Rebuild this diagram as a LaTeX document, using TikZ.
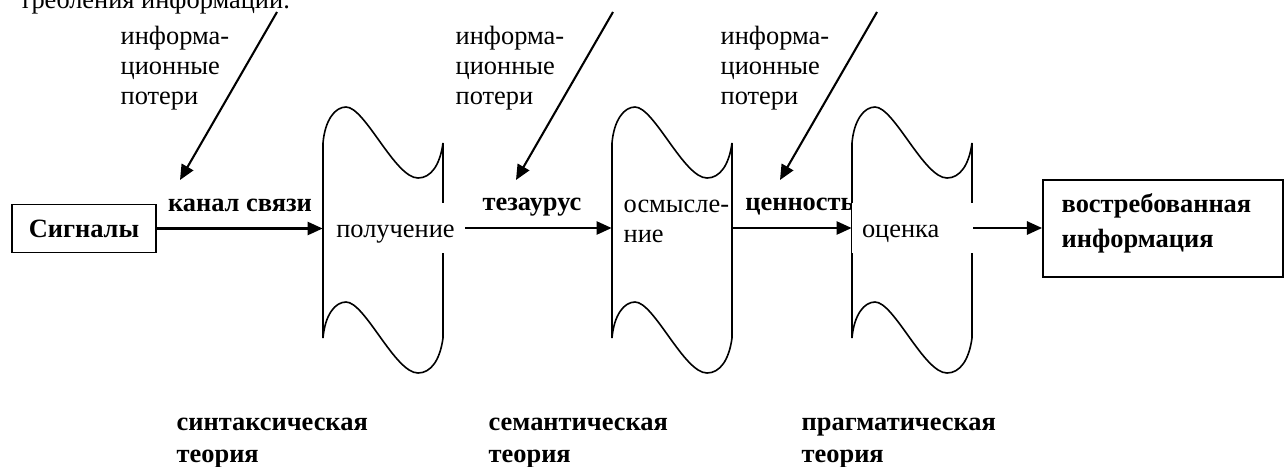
\documentclass[tikz,border=0pt]{standalone}
\usepackage{fontspec}
\setmainfont{Liberation Serif}
\usetikzlibrary{arrows.meta}
\newcommand{\pxu}{0.53pt}

\begin{document}
\begin{tikzpicture}[x=0.53pt, y=-0.53pt, font=\fontsize{14}{16}\selectfont,
  flow/.style={line width=1.1pt, -{Triangle[length=8pt,width=7pt]}},
  tapebox/.style={minimum width=120*\pxu, minimum height=195*\pxu, inner sep=0pt},
  tapeline/.style={line width=0.85pt},
  stage/.style={fill=white, text height=18pt, text depth=8.4pt, inner xsep=10*\pxu, inner ysep=0pt},
  keyword/.style={font=\fontsize{14}{16}\selectfont\bfseries, anchor=base},
  theory/.style={font=\fontsize{14}{17}\selectfont\bfseries, align=left, anchor=west},
  losstext/.style={align=left, anchor=west},
  endbox/.style={draw, line width=1pt, inner sep=0pt}]
  \useasboundingbox (0,0) rectangle (1284,466);
  \node[anchor=base west] (head) at (13,8) {требления информации.};

  \foreach \n/\l in {p1/323, p2/612, p3/852} {
    \node[tapebox] (\n) at (\l+60,240.5) {};
    \draw[tapeline] (\l,143) -- (\l,338)
      .. controls (\l+2,315) and (\l+12,302) .. (\l+23,302)
      .. controls (\l+42,302) and (\l+72,373) .. (\l+95,373)
      .. controls (\l+108,373) and (\l+117,360) .. (\l+120,338) -- (\l+120,143)
      .. controls (\l+117,165) and (\l+108,178) .. (\l+95,178)
      .. controls (\l+72,178) and (\l+42,107) .. (\l+23,107)
      .. controls (\l+12,107) and (\l+2,120) .. (\l,143) -- cycle;
  }

  \node[endbox, minimum width=144*\pxu, minimum height=48*\pxu, font=\fontsize{14}{16}\selectfont\bfseries] (sig) at (84,228.5) {Сигналы};
  \node[endbox, minimum width=240*\pxu, minimum height=97*\pxu] (out) at (1163,228.5) {};
  \node[align=left, anchor=west, font=\fontsize{14}{18.5}\selectfont\bfseries] (outtxt) at (1055,223) {востребованная\\информация};

  \node[keyword] (kanal) at (240,211) {канал связи};
  \node[keyword] (tez) at (532,210) {тезаурус};
  \node[keyword] (cen) at (800,210) {ценность};

  \node[stage] (pol) at (395.5,228) {получение};
  \node[losstext] (osm) at (617,221) {осмысле-\\ние};
  \node[stage, text width=101*\pxu, align=left] (ots) at (912.5,228) {оценка};

  \draw[flow] (sig.east) -- (sig.east -| p1.west);
  \draw[flow] (pol.east) -- (pol.east -| p2.west);
  \draw[flow] (ots.west -| p2.east) -- (ots.west);
  \draw[flow] (ots.east) -- (ots.east -| out.west);

  \node[losstext] (loss1) at (114,68) {информа-\\ционные\\потери};
  \node[losstext] (loss2) at (449,68) {информа-\\ционные\\потери};
  \node[losstext] (loss3) at (714,68) {информа-\\ционные\\потери};
  \coordinate (l1s) at (277,12);
  \coordinate (l1e) at (180,180);
  \coordinate (l2s) at (613,12);
  \coordinate (l2e) at (516,180);
  \coordinate (l3s) at (877,12);
  \coordinate (l3e) at (780,180);
  \draw[flow] (l1s) -- (l1e);
  \draw[flow] (l2s) -- (l2e);
  \draw[flow] (l3s) -- (l3e);

  \node[theory] (syn) at (170,443) {синтаксическая\\теория};
  \node[theory] (sem) at (482,443) {семантическая\\теория};
  \node[theory] (prag) at (795,443) {прагматическая\\теория};
\end{tikzpicture}
\end{document}
